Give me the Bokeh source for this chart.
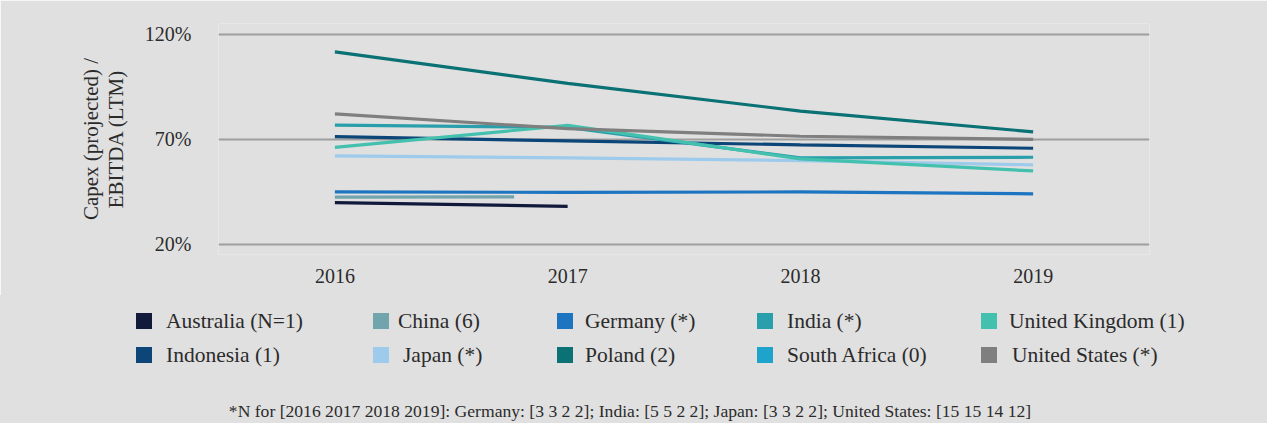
from bokeh.plotting import figure
from bokeh.layouts import column
from bokeh.models import FixedTicker, PrintfTickFormatter, Range1d, Div
from bokeh.embed import file_html
from bokeh.resources import INLINE

# ---------------- data ----------------
years = [2016, 2017, 2018, 2019]
y_ticks = [20, 70, 120]

australia_x = [2016, 2017]
australia_y = [39.7, 37.9]
indonesia_x = years
indonesia_y = [71.1, 69.1, 67.2, 65.6]
china_x = [2016, 2016.77]
china_y = [42.3, 42.4]
japan_x = years
japan_y = [62.0, 61.0, 59.7, 57.7]
germany_x = years
germany_y = [44.8, 44.6, 44.8, 43.9]
poland_x = years
poland_y = [111.5, 96.5, 83.3, 73.4]
india_x = years
india_y = [76.6, 75.5, 61.0, 61.3]
south_africa_x = []
south_africa_y = []
uk_x = years
uk_y = [66.0, 76.5, 60.5, 54.8]
us_x = years
us_y = [82.0, 74.9, 71.3, 69.8]

# legend order (column by column)
names = ["Australia (N=1)", "Indonesia (1)", "China (6)", "Japan (*)", "Germany (*)",
         "Poland (2)", "India (*)", "South Africa (0)", "United Kingdom (1)", "United States (*)"]
xs = [australia_x, indonesia_x, china_x, japan_x, germany_x,
      poland_x, india_x, south_africa_x, uk_x, us_x]
ys = [australia_y, indonesia_y, china_y, japan_y, germany_y,
      poland_y, india_y, south_africa_y, uk_y, us_y]
colors = ["#111a3a", "#0c4577", "#72a4ae", "#9ecbeb", "#1d74c0",
          "#0a7174", "#2a9fac", "#1ea4cb", "#44c0ae", "#7f7f7f"]

y_label = "Capex (projected) /\nEBITDA (LTM)"
footnote = ("*N for [2016 2017 2018 2019]: Germany: [3 3 2 2]; India: [5 5 2 2]; "
            "Japan: [3 3 2 2]; United States: [15 15 14 12]")

# ---------------- style ----------------
BG = "#e0e0e0"
TXT = "#2b2b2b"
FONT = "Liberation Serif"
W = 1267
TOP_H = 295
BOT_H = 128

p = figure(frame_width=931, frame_height=231,
           min_border_left=218, min_border_right=W - 218 - 931,
           min_border_top=23, min_border_bottom=TOP_H - 23 - 231,
           x_range=Range1d(2015.5, 2019.5), y_range=Range1d(15, 125),
           output_backend="svg", toolbar_location=None, tools="")
p.background_fill_color = BG
p.border_fill_color = BG
p.outline_line_color = None

for ax in (p.xaxis[0], p.yaxis[0]):
    ax.axis_line_color = None
    ax.major_tick_line_color = None
    ax.minor_tick_line_color = None
    ax.major_tick_out = 0
    ax.major_tick_in = 0
    ax.major_label_text_font = FONT
    ax.major_label_text_font_size = "20px"
    ax.major_label_text_color = TXT

p.xaxis.ticker = FixedTicker(ticks=years)
p.xaxis.major_label_standoff = 14
p.yaxis.ticker = FixedTicker(ticks=y_ticks)
p.yaxis.formatter = PrintfTickFormatter(format="%d%%")
p.yaxis.major_label_standoff = 27
p.yaxis.axis_label = y_label
p.yaxis.axis_label_standoff = 14
p.yaxis.axis_label_text_font = FONT
p.yaxis.axis_label_text_font_size = "21px"
p.yaxis.axis_label_text_font_style = "normal"
p.yaxis.axis_label_text_line_height = 1.05
p.yaxis.axis_label_text_color = TXT

p.xgrid.grid_line_color = None
p.ygrid.ticker = FixedTicker(ticks=y_ticks)
p.ygrid.grid_line_color = "#9e9e9e"
p.ygrid.grid_line_width = 2

for x, y, c in zip(xs, ys, colors):
    if len(x):
        p.line(x, y, line_color=c, line_width=3.2)

# ---------------- legend + footnote (HTML block under the chart) ----------------
swatch_left = [136, 136, 373, 373, 557, 557, 757, 757, 981, 981]
text_left = [166, 166, 398, 403, 585, 585, 787, 787, 1009, 1012]
row_center = [26, 60] * 5

parts = []
for name, c, sl, tl, rc in zip(names, colors, swatch_left, text_left, row_center):
    parts.append(
        f'<div style="position:absolute;left:{sl}px;top:{rc - 8}px;width:16px;'
        f'height:16px;background:{c};"></div>')
    parts.append(
        f'<div style="position:absolute;left:{tl}px;top:{rc - 12}px;height:24px;'
        f'line-height:24px;font-size:21.5px;white-space:nowrap;">{name}</div>')
parts.append(
    f'<div style="position:absolute;left:0px;width:{2 * 630}px;top:106px;height:20px;'
    f'line-height:20px;font-size:17.6px;text-align:center;white-space:nowrap;">{footnote}</div>')

html = (f'<div style="position:relative;width:{W}px;height:{BOT_H}px;background:{BG};'
        f'font-family:\'{FONT}\';color:{TXT};overflow:hidden;">' + "".join(parts) + '</div>')
legend_div = Div(text=html, width=W, height=BOT_H,
                 styles={"background-color": BG, "margin": "0", "padding": "0"})

layout = column(p, legend_div, spacing=0)
open("out.html", "w").write(file_html(layout, INLINE))
